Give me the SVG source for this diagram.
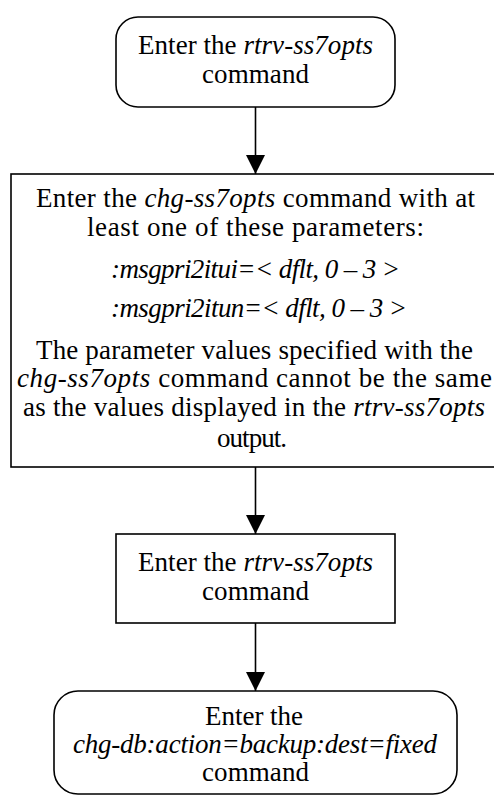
<svg xmlns="http://www.w3.org/2000/svg" width="494" height="796" viewBox="0 0 494 796">
<style>
.box{fill:#fff;stroke:#000;stroke-width:1.6}
.t{font-family:"Liberation Serif","Times New Roman",serif;font-size:27px;fill:#000;text-anchor:middle}
.i{font-style:italic}
.c{stroke:#000;stroke-width:1.6;fill:none}
</style>
<defs>
<marker id="ah" markerUnits="userSpaceOnUse" markerWidth="20" markerHeight="20" refX="19" refY="9.5" orient="auto">
<path d="M0,0 L19,9.5 L0,19 Z" fill="#000"/>
</marker>
</defs>
<g id="connectors">
<line class="c" x1="255.5" y1="107" x2="255.5" y2="174" marker-end="url(#ah)"/>
<line class="c" x1="255.5" y1="467" x2="255.5" y2="534" marker-end="url(#ah)"/>
<line class="c" x1="255.5" y1="623" x2="255.5" y2="691" marker-end="url(#ah)"/>
</g>
<g id="node1">
<rect class="box" x="116" y="17" width="279" height="90" rx="22" ry="22"/>
<text class="t" x="255.5" y="54" textLength="235" lengthAdjust="spacing">Enter the <tspan class="i">rtrv-ss7opts</tspan></text>
<text class="t" x="255.5" y="83" textLength="107" lengthAdjust="spacing">command</text>
</g>
<g id="node2">
<rect class="box" x="11" y="174" width="490" height="293"/>
<text class="t" x="255.5" y="207" textLength="439" lengthAdjust="spacing">Enter the <tspan class="i">chg-ss7opts</tspan> command with at</text>
<text class="t" x="255.5" y="236" textLength="337" lengthAdjust="spacing">least one of these parameters:</text>
<text class="t i" x="255.5" y="278" textLength="289" lengthAdjust="spacing">:msgpri2itui=&lt; dflt, 0 – 3 &gt;</text>
<text class="t i" x="259" y="317" textLength="296" lengthAdjust="spacing">:msgpri2itun=&lt; dflt, 0 – 3 &gt;</text>
<text class="t" x="254.5" y="359" textLength="437" lengthAdjust="spacing">The parameter values specified with the</text>
<text class="t" x="254.5" y="387" textLength="475" lengthAdjust="spacing"><tspan class="i">chg-ss7opts</tspan> command cannot be the same</text>
<text class="t" x="254" y="416" textLength="462" lengthAdjust="spacing">as the values displayed in the <tspan class="i">rtrv-ss7opts</tspan></text>
<text class="t" x="252" y="447" textLength="70" lengthAdjust="spacing">output.</text>
</g>
<g id="node3">
<rect class="box" x="116" y="534" width="279" height="89"/>
<text class="t" x="255.5" y="571" textLength="235" lengthAdjust="spacing">Enter the <tspan class="i">rtrv-ss7opts</tspan></text>
<text class="t" x="255.5" y="600" textLength="107" lengthAdjust="spacing">command</text>
</g>
<g id="node4">
<rect class="box" x="54" y="691" width="403" height="103" rx="24" ry="24"/>
<text class="t" x="254" y="725" textLength="98" lengthAdjust="spacing">Enter the</text>
<text class="t i" x="255" y="753" textLength="364" lengthAdjust="spacing">chg-db:action=backup:dest=fixed</text>
<text class="t" x="255.5" y="781" textLength="107" lengthAdjust="spacing">command</text>
</g>
</svg>
